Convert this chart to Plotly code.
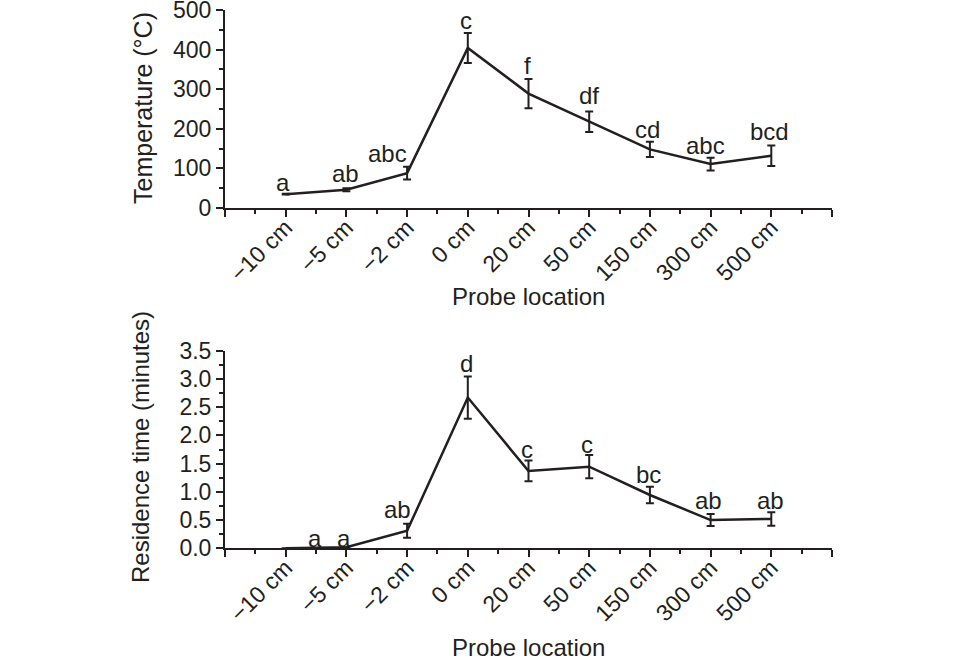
import plotly.graph_objects as go

W, H = 960, 659

categories = ["\u221210 cm", "\u22125 cm", "\u22122 cm", "0 cm", "20 cm", "50 cm", "150 cm", "300 cm", "500 cm"]

temp_mean = [35, 46, 88, 404, 289, 218, 148, 111, 132]
temp_err = [1, 4, 16, 38, 37, 26, 19, 16, 26]
temp_letters = ["a", "ab", "abc", "c", "f", "df", "cd", "abc", "bcd"]
temp_letter_x = [-0.05, 0.98, 1.67, 2.97, 3.98, 5.0, 5.96, 6.92, 7.97]
temp_letter_y = [64, 86, 138, 473, 361, 283, 199, 157, 193]

res_mean = [0.0, 0.02, 0.31, 2.67, 1.37, 1.445, 0.944, 0.50, 0.52]
res_err = [0, 0, 0.124, 0.375, 0.183, 0.206, 0.147, 0.106, 0.12]
res_letters = ["a", "a", "ab", "d", "c", "c", "bc", "ab", "ab"]
res_letter_x = [0.48, 0.96, 1.84, 2.98, 3.97, 4.97, 5.97, 6.96, 7.99]
res_letter_y = [0.177, 0.177, 0.68, 3.28, 1.75, 1.83, 1.31, 0.855, 0.855]

temp_ticks = [0, 100, 200, 300, 400, 500]
res_ticks = [0.0, 0.5, 1.0, 1.5, 2.0, 2.5, 3.0, 3.5]

INK = "#231f20"
FONT = "Liberation Sans, Arial, sans-serif"

xidx = list(range(len(categories)))

fig = go.Figure()
fig.add_trace(go.Scatter(
    x=xidx, y=temp_mean, mode="lines", line=dict(color=INK, width=2.5),
    error_y=dict(type="data", array=temp_err, visible=True, color=INK, thickness=2, width=4),
    xaxis="x", yaxis="y", showlegend=False))
fig.add_trace(go.Scatter(
    x=xidx, y=res_mean, mode="lines", line=dict(color=INK, width=2.5),
    error_y=dict(type="data", array=res_err, visible=True, color=INK, thickness=2, width=4),
    xaxis="x2", yaxis="y2", showlegend=False))


def px_x(p):
    return p / W


def px_y(p):
    return 1 - p / H


xdom = [px_x(225), px_x(832)]
tickvals = list(range(-1, 10))
ticktext = [""] + categories + [""]

xaxis_common = dict(
    range=[-1, 9], tickmode="array", tickvals=tickvals, ticktext=ticktext,
    tickangle=-45, ticks="outside", ticklen=7, tickwidth=1.5, tickcolor=INK,
    showline=True, linecolor=INK, linewidth=2, showgrid=False, zeroline=False,
    tickfont=dict(family=FONT, size=23, color=INK), ticklabelstandoff=-12,
    ticklabeloverflow="allow",
    minor=dict(ticks="outside", ticklen=4, tickwidth=1.5, tickcolor=INK,
               tickvals=[i + 0.5 for i in range(-1, 9)], showgrid=False),
    domain=xdom, automargin=False, fixedrange=True,
)
yaxis_common = dict(
    ticks="outside", ticklen=7, tickwidth=1.5, tickcolor=INK, tickmode="array",
    showline=True, linecolor=INK, linewidth=2, showgrid=False, zeroline=False,
    tickfont=dict(family=FONT, size=23, color=INK), automargin=False, fixedrange=True,
    ticklabeloverflow="allow",
)

fig.update_layout(
    width=W, height=H,
    margin=dict(l=0, r=0, t=0, b=0),
    paper_bgcolor="white", plot_bgcolor="rgba(0,0,0,0)",
    font=dict(family=FONT, color=INK),
    xaxis=dict(**xaxis_common, anchor="y"),
    yaxis=dict(**yaxis_common, range=[0, 500], tickvals=temp_ticks,
               ticktext=[str(v) for v in temp_ticks],
               minor=dict(ticks="outside", ticklen=4, tickwidth=1.5, tickcolor=INK,
                          tickvals=[v + 50 for v in temp_ticks[:-1]], showgrid=False),
               domain=[px_y(208), px_y(10)], anchor="x"),
    xaxis2=dict(**xaxis_common, anchor="y2"),
    yaxis2=dict(**yaxis_common, range=[0, 3.5], tickvals=res_ticks,
                ticktext=[f"{v:.1f}" for v in res_ticks],
                minor=dict(ticks="outside", ticklen=4, tickwidth=1.5, tickcolor=INK,
                           tickvals=[v + 0.25 for v in res_ticks[:-1]], showgrid=False),
                domain=[px_y(548.3), px_y(350.7)], anchor="x2"),
)

annotations = []
for xv, yv, t in zip(temp_letter_x, temp_letter_y, temp_letters):
    annotations.append(dict(x=xv, y=yv, xref="x", yref="y", text=t, showarrow=False,
                            font=dict(family=FONT, size=24, color=INK)))
for xv, yv, t in zip(res_letter_x, res_letter_y, res_letters):
    annotations.append(dict(x=xv, y=yv, xref="x2", yref="y2", text=t, showarrow=False,
                            font=dict(family=FONT, size=24, color=INK)))

titles = [
    ("Temperature (\u00b0C)", 143, 108, -90, 25),
    ("Probe location", 528, 297, 0, 24),
    ("Residence time (minutes)", 140, 447, -90, 24),
    ("Probe location", 528, 647, 0, 24),
]
for t, x, y, ang, fs in titles:
    annotations.append(dict(x=px_x(x), y=px_y(y), xref="paper", yref="paper", text=t,
                            showarrow=False, textangle=ang, xanchor="center", yanchor="middle",
                            font=dict(family=FONT, size=fs, color=INK)))
fig.update_layout(annotations=annotations)

fig.write_html("out.html")
